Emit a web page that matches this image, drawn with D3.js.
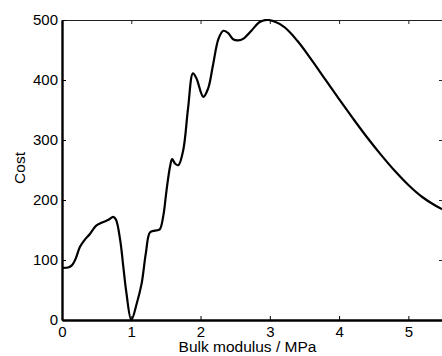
<!DOCTYPE html>
<html><head><meta charset="utf-8">
<script src="https://cdn.jsdelivr.net/npm/d3@7"></script>
<style>body{margin:0;background:#fff}svg{display:block}text{font-family:"Liberation Sans",Arial,Helvetica,sans-serif}</style>
</head><body><svg id="c" width="442" height="356"></svg>
<script>
const xValues = [0, 0.1, 0.15, 0.2, 0.26, 0.33, 0.4, 0.49, 0.57, 0.67, 0.74, 0.78, 0.84, 0.885, 0.93, 1.0, 1.08, 1.15, 1.21, 1.27, 1.34, 1.41, 1.46, 1.51, 1.56, 1.59, 1.63, 1.68, 1.75, 1.82, 1.89, 1.94, 2.04, 2.11, 2.18, 2.26, 2.33, 2.40, 2.47, 2.54, 2.62, 2.74, 2.86, 2.98, 3.2, 3.4, 3.6, 3.8, 4.0, 4.2, 4.4, 4.6, 4.8, 5.0, 5.2, 5.4, 5.5];
const costValues = [87, 88, 92, 103, 122, 134, 143, 157, 162, 167, 172, 167, 133, 89, 45, 0, 28, 61, 111, 146, 149, 151, 172, 217, 256, 268, 261, 258, 283, 353, 411, 403, 372, 386, 425, 469, 482, 478, 468, 466, 469, 483, 497, 500, 489, 465, 434, 401, 368, 336, 305, 276, 249, 225, 205, 190, 184];
const xTicks = [0, 1, 2, 3, 4, 5];
const yTicks = [0, 100, 200, 300, 400, 500];
const xLabel = "Bulk modulus / MPa";
const yLabel = "Cost";

const svg = d3.select("#c");
const m = {left: 62, top: 20};
const W = 381, H = 300;
const x = d3.scaleLinear().domain([0, 5.5]).range([m.left, m.left + W]);
const y = d3.scaleLinear().domain([0, 500]).range([m.top + H, m.top]);

svg.append("defs").append("clipPath").attr("id", "clip")
  .append("rect").attr("x", m.left).attr("y", m.top - 1).attr("width", W).attr("height", H + 1);

// top and right frame
const fr = svg.append("g");
fr.append("g").attr("transform", `translate(0,${m.top})`)
  .call(d3.axisBottom(x).tickValues(xTicks).tickSize(4).tickFormat(""))
  .call(g => g.select(".domain").attr("stroke", "#222").attr("stroke-width", 1.2))
  .call(g => g.selectAll(".tick line").attr("stroke", "#222"));
fr.append("g").attr("transform", `translate(${m.left + W},0)`)
  .call(d3.axisLeft(y).tickValues(yTicks).tickSize(4).tickFormat(""))
  .call(g => g.select(".domain").attr("stroke", "#222").attr("stroke-width", 1.2))
  .call(g => g.selectAll(".tick line").attr("stroke", "#222"));

const pts = xValues.map((d, i) => [d, costValues[i]]);
svg.append("path").datum(pts)
  .attr("clip-path", "url(#clip)")
  .attr("fill", "none").attr("stroke", "#000").attr("stroke-width", 2.2)
  .attr("stroke-linejoin", "round")
  .attr("d", d3.line().x(d => x(d[0])).y(d => y(d[1])).curve(d3.curveCatmullRom.alpha(0.5)));

// bottom axis
svg.append("g").attr("transform", `translate(0,${m.top + H})`)
  .call(d3.axisBottom(x).tickValues(xTicks).tickSizeInner(-4).tickSizeOuter(0).tickPadding(6).tickFormat(d3.format("d")))
  .call(g => g.select(".domain").attr("stroke", "#000").attr("stroke-width", 2.4))
  .call(g => g.selectAll(".tick line").attr("stroke", "#000"))
  .call(g => g.selectAll("text").attr("fill", "#000").attr("font-size", 15).attr("font-family", "Liberation Sans, Arial, sans-serif"));

// left axis
svg.append("g").attr("transform", `translate(${m.left},0)`)
  .call(d3.axisLeft(y).tickValues(yTicks).tickSizeInner(-4).tickSizeOuter(0).tickPadding(4).tickFormat(d3.format("d")))
  .call(g => g.select(".domain").attr("stroke", "#000").attr("stroke-width", 2.4))
  .call(g => g.selectAll(".tick line").attr("stroke", "#000"))
  .call(g => g.selectAll("text").attr("fill", "#000").attr("font-size", 15).attr("font-family", "Liberation Sans, Arial, sans-serif"));

svg.append("text").attr("x", 247.5).attr("y", 352).attr("text-anchor", "middle")
  .attr("font-size", 15.5).attr("fill", "#000").text(xLabel);
svg.append("text").attr("transform", "translate(25,168) rotate(-90)").attr("text-anchor", "middle")
  .attr("font-size", 15.5).attr("fill", "#000").text(yLabel);
</script></body></html>
